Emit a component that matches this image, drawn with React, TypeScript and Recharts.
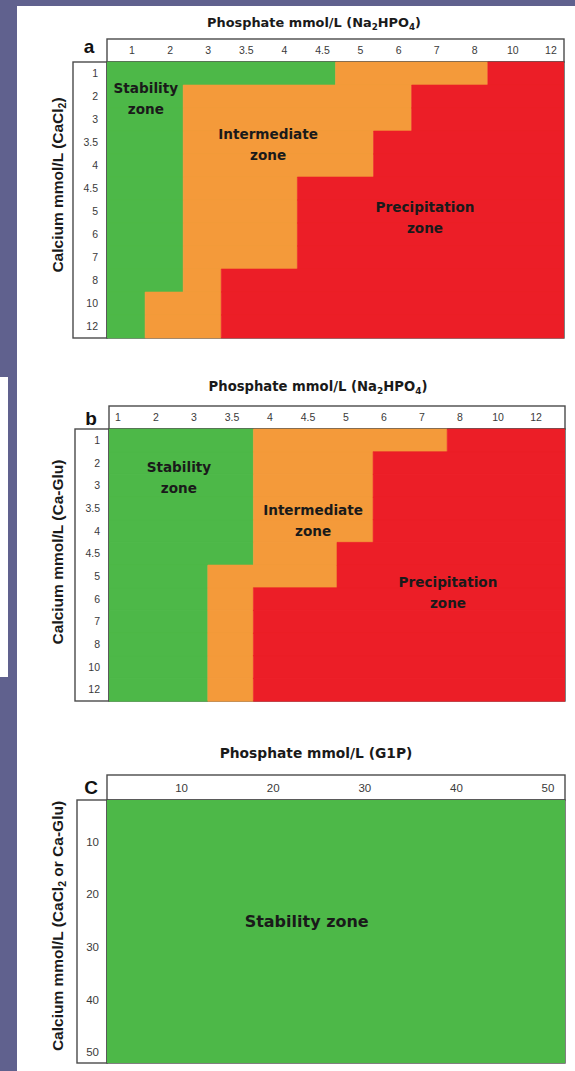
import React from 'react';
import { BarChart, Bar, XAxis, YAxis, ReferenceDot, Customized, ComposedChart, Area } from 'recharts';

// ---------- data ----------
const calciumLevels = ['1', '2', '3', '3.5', '4', '4.5', '5', '6', '7', '8', '10', '12'];
const phosphateLevels = ['1', '2', '3', '3.5', '4', '4.5', '5', '6', '7', '8', '10', '12'];

// panel a: end of stability / intermediate zones, in phosphate-column units, per calcium row
const stableEndA = [6, 2, 2, 2, 2, 2, 2, 2, 2, 2, 1, 1];
const intermediateEndA = [10, 8, 8, 7, 7, 5, 5, 5, 5, 3, 3, 3];

// panel b
const stableEndB = [3.8, 3.8, 3.8, 3.8, 3.8, 3.8, 2.6, 2.6, 2.6, 2.6, 2.6, 2.6];
const intermediateEndB = [8.9, 6.95, 6.95, 6.95, 6.95, 6.0, 6.0, 3.8, 3.8, 3.8, 3.8, 3.8];

// panel c
const g1pTicks = [10, 20, 30, 40, 50];
const calciumTicksC = [10, 20, 30, 40, 50];
const stabilityPhosC = [0, 50];
const stabilityCaC = [50, 50];

// zone label anchors (data units: phosphate column, calcium row)
const zoneLabelsA = [
  { lines: ['Stability', 'zone'], p: 1.02, c: 1.57 },
  { lines: ['Intermediate', 'zone'], p: 4.23, c: 3.57 },
  { lines: ['Precipitation', 'zone'], p: 8.35, c: 6.76 },
];
const zoneLabelsB = [
  { lines: ['Stability', 'zone'], p: 1.84, c: 2.16 },
  { lines: ['Intermediate', 'zone'], p: 5.37, c: 4.04 },
  { lines: ['Precipitation', 'zone'], p: 8.92, c: 7.23 },
];
const zoneLabelsC = [{ lines: ['Stability zone'], p: 21.8, c: 23.0 }];

// ---------- styles ----------
const GREEN = '#4db848';
const ORANGE = '#f49a3a';
const RED = '#ec1e27';
const PURPLE = '#60618e';
const FRAME = '#4a4a4a';
const TICK = '#3a3a3a';
const BOLD_FONT = "'DejaVu Sans', Verdana, sans-serif";
const TICK_FONT = "'Liberation Sans', Arial, sans-serif";

const W = 575;
const colTicks = phosphateLevels.map((_, i) => i + 0.5);

const buildRows = (se: number[], ie: number[]) =>
  calciumLevels.map((ca, i) => ({
    ca,
    stability: se[i],
    intermediate: ie[i] - se[i],
    precipitation: phosphateLevels.length - ie[i],
  }));

const rowsA = buildRows(stableEndA, intermediateEndA);
const rowsB = buildRows(stableEndB, intermediateEndB);
const rowsC = stabilityPhosC.map((p, i) => ({ p, ca: stabilityCaC[i] }));

const ZoneText = (props: any) => {
  const { viewBox, lines, size = 13.6, shift = 0 } = props;
  const cx = viewBox.x + viewBox.width / 2;
  const cy = viewBox.y + viewBox.height / 2 + shift;
  const gap = 21;
  const y0 = cy - ((lines.length - 1) * gap) / 2;
  return (
    <text textAnchor="middle" fontFamily={BOLD_FONT} fontWeight="bold" fontSize={size} fill="#1a1a1a">
      {lines.map((l: string, i: number) => (
        <tspan key={i} x={cx} y={y0 + i * gap} dy="0.36em">
          {l}
        </tspan>
      ))}
    </text>
  );
};

const makeXTick = (labels: (v: number) => string, dx: number, size = 10.5) => (props: any) => {
  const { x, y, payload } = props;
  return (
    <text x={x + dx} y={y} dy="0.36em" textAnchor="middle" fontFamily={TICK_FONT} fontSize={size} fill={TICK}>
      {labels(payload.value)}
    </text>
  );
};

const makeYTick = (dy: number, size = 10.5) => (props: any) => {
  const { x, y, payload } = props;
  return (
    <text x={x} y={y + dy} dy="0.36em" textAnchor="end" fontFamily={TICK_FONT} fontSize={size} fill={TICK}>
      {payload.value}
    </text>
  );
};

type Geo = { H: number; m: { top: number; right: number; bottom: number; left: number }; yw: number; xh: number };

const Frame = (props: any) => {
  const { geo, title, letter, yTitle } = props;
  const hTop = geo.m.top;
  const pl = geo.m.left + geo.yw;
  const pt = geo.m.top + geo.xh;
  const pr = W - geo.m.right;
  const pb = geo.H - geo.m.bottom;
  const ll = geo.m.left;
  return (
    <g>
      <rect x={pl} y={hTop} width={pr - pl} height={pt - hTop} fill="none" stroke={FRAME} strokeWidth={1.4} />
      <rect x={ll} y={pt} width={pl - ll} height={pb - pt} fill="none" stroke={FRAME} strokeWidth={1.4} />
      <rect x={pl} y={pt} width={pr - pl} height={pb - pt} fill="none" stroke={FRAME} strokeWidth={1.4} />
      <text x={props.titleX} y={props.titleY} textAnchor="middle" fontFamily={BOLD_FONT} fontWeight="bold" fontSize={props.titleSize} fill="#1a1a1a">
        {title}
      </text>
      <text x={props.letterX} y={props.letterY} textAnchor="middle" fontFamily={TICK_FONT} fontWeight="bold" fontSize={19} fill="#111">
        {letter}
      </text>
      <text
        transform={`translate(${props.yTitleX},${props.yTitleY}) rotate(-90)`}
        textAnchor="middle"
        dy="0.36em"
        fontFamily={TICK_FONT}
        fontWeight="bold"
        fontSize={15.5}
        fill="#1a1a1a"
      >
        {yTitle}
      </text>
    </g>
  );
};

const naTitle = (
  <>
    <tspan>Phosphate mmol/L (Na</tspan>
    <tspan dy={3} fontSize="68%">2</tspan>
    <tspan dy={-3}>HPO</tspan>
    <tspan dy={3} fontSize="68%">4</tspan>
    <tspan dy={-3}>)</tspan>
  </>
);

const geoA: Geo = { H: 360, m: { top: 39, right: 11, bottom: 22, left: 73 }, yw: 34, xh: 23 };
const geoB: Geo = { H: 345, m: { top: 41, right: 10, bottom: 9, left: 75 }, yw: 34, xh: 23 };
const geoC: Geo = { H: 351, m: { top: 55, right: 10, bottom: 8, left: 77 }, yw: 30, xh: 25 };

const ZonePanel = (props: {
  geo: Geo;
  rows: any[];
  labels: { lines: string[]; p: number; c: number }[];
  xdx: number;
  frame: any;
}) => {
  const { geo, rows, labels, xdx, frame } = props;
  const rowH = (geo.H - geo.m.top - geo.m.bottom - geo.xh) / calciumLevels.length;
  return (
    <BarChart width={W} height={geo.H} data={rows} layout="vertical" margin={geo.m} barCategoryGap={0} barGap={0}>
      <XAxis
        type="number"
        orientation="top"
        domain={[0, phosphateLevels.length]}
        ticks={colTicks}
        interval={0}
        height={geo.xh}
        axisLine={false}
        tickLine={false}
        tickSize={0}
        tickMargin={geo.xh / 2}
        tick={makeXTick((v) => phosphateLevels[Math.floor(v)], xdx)}
        allowDataOverflow
      />
      <YAxis
        type="category"
        dataKey="ca"
        width={geo.yw}
        axisLine={false}
        tickLine={false}
        tickSize={0}
        tickMargin={9}
        interval={0}
        tick={makeYTick(0)}
      />
      <Bar dataKey="stability" stackId="z" fill={GREEN} stroke={GREEN} strokeWidth={0.6} isAnimationActive={false} />
      <Bar dataKey="intermediate" stackId="z" fill={ORANGE} stroke={ORANGE} strokeWidth={0.6} isAnimationActive={false} />
      <Bar dataKey="precipitation" stackId="z" fill={RED} stroke={RED} strokeWidth={0.6} isAnimationActive={false} />
      {labels.map((z, i) => {
        const row = Math.floor(z.c);
        return (
          <ReferenceDot
            key={i}
            x={z.p}
            y={calciumLevels[row]}
            r={0}
            fill="none"
            stroke="none"
            ifOverflow="visible"
            label={<ZoneText lines={z.lines} shift={(z.c - row - 0.5) * rowH} />}
          />
        );
      })}
      <Customized component={<Frame geo={geo} {...frame} />} />
    </BarChart>
  );
};

const PanelC = () => {
  const geo = geoC;
  return (
    <ComposedChart width={W} height={geo.H} data={rowsC} margin={geo.m}>
      <XAxis
        dataKey="p"
        type="number"
        orientation="top"
        domain={[0, 50]}
        ticks={g1pTicks}
        interval={0}
        height={geo.xh}
        axisLine={false}
        tickLine={false}
        tickSize={0}
        tickMargin={geo.xh / 2}
        tick={makeXTick((v) => String(v), -17, 11.5)}
      />
      <YAxis
        type="number"
        domain={[0, 50]}
        reversed
        ticks={calciumTicksC}
        interval={0}
        width={geo.yw}
        axisLine={false}
        tickLine={false}
        tickSize={0}
        tickMargin={8}
        tick={makeYTick(-11, 11.5)}
      />
      <Area
        type="linear"
        dataKey="ca"
        stroke="none"
        fill={GREEN}
        fillOpacity={1}
        isAnimationActive={false}
        dot={false}
        activeDot={false}
      />
      {zoneLabelsC.map((z, i) => (
        <ReferenceDot
          key={i}
          x={z.p}
          y={z.c}
          r={0}
          fill="none"
          stroke="none"
          ifOverflow="visible"
          label={<ZoneText lines={z.lines} size={16} />}
        />
      ))}
      <Customized
        component={
          <Frame
            geo={geo}
            title="Phosphate mmol/L (G1P)"
            titleSize={13.8}
            titleX={316}
            titleY={38}
            letter="C"
            letterX={91}
            letterY={74}
            yTitleX={57}
            yTitleY={206}
            yTitle={
              <>
                <tspan>Calcium mmol/L (CaCl</tspan>
                <tspan dy={3} fontSize={10.5}>2</tspan>
                <tspan dy={-3}> or Ca-Glu)</tspan>
              </>
            }
          />
        }
      />
    </ComposedChart>
  );
};

export default function App() {
  return (
    <div style={{ position: 'absolute', left: 0, top: 0, width: W, height: 1071, background: '#fff', overflow: 'hidden' }}>
      <div style={{ position: 'absolute', left: 0, top: 0, width: W, height: 6, background: PURPLE }} />
      <div style={{ position: 'absolute', left: 0, top: 0, width: 17, height: 1071, background: PURPLE }} />
      <div style={{ position: 'absolute', left: 0, top: 377, width: 8, height: 300, background: '#fff' }} />
      <div style={{ position: 'absolute', left: 0, top: 0 }}>
        <ZonePanel
          geo={geoA}
          rows={rowsA}
          labels={zoneLabelsA}
          xdx={6}
          frame={{
            title: naTitle,
            titleSize: 12.9,
            titleX: 314,
            titleY: 27,
            letter: 'a',
            letterX: 89,
            letterY: 53,
            yTitleX: 57,
            yTitleY: 185,
            yTitle: (
              <>
                <tspan>Calcium mmol/L (CaCl</tspan>
                <tspan dy={3} fontSize={10.5}>2</tspan>
                <tspan dy={-3}>)</tspan>
              </>
            ),
          }}
        />
      </div>
      <div style={{ position: 'absolute', left: 0, top: 365 }}>
        <ZonePanel
          geo={geoB}
          rows={rowsB}
          labels={zoneLabelsB}
          xdx={-10}
          frame={{
            title: naTitle,
            titleSize: 13.2,
            titleX: 318,
            titleY: 26,
            letter: 'b',
            letterX: 91,
            letterY: 60,
            yTitleX: 57,
            yTitleY: 187,
            yTitle: 'Calcium mmol/L (Ca-Glu)',
          }}
        />
      </div>
      <div style={{ position: 'absolute', left: 0, top: 720 }}>
        <PanelC />
      </div>
    </div>
  );
}
